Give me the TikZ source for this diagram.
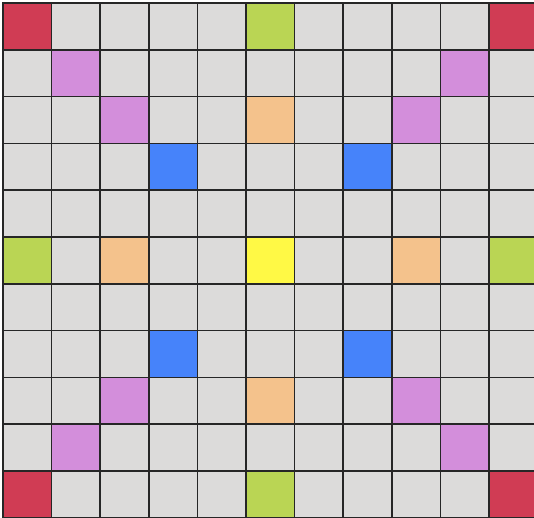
\documentclass[tikz,border=0pt]{standalone}
\usetikzlibrary{positioning}
\definecolor{cellgrey}{HTML}{DCDBDA}
\definecolor{cornerred}{HTML}{D03C54}
\definecolor{diagpink}{HTML}{D38EDB}
\definecolor{edgegreen}{HTML}{BAD554}
\definecolor{midorange}{HTML}{F4C28C}
\definecolor{innerblue}{HTML}{4683FA}
\definecolor{centreyellow}{HTML}{FFF945}
\tikzset{
  cellbox/.style={draw=black!85, line width=1.5pt, fill=cellgrey},
  redcell/.style={cellbox, fill=cornerred},
  pinkcell/.style={cellbox, fill=diagpink},
  greencell/.style={cellbox, fill=edgegreen},
  orangecell/.style={cellbox, fill=midorange},
  bluecell/.style={cellbox, fill=innerblue},
  yellowcell/.style={cellbox, fill=centreyellow}
}
% one cell: column, row, style
\newcommand{\gridcell}[3]{%
  \draw[#3] ({3+#1*48.6},{3+#2*46.8}) rectangle ++(48.6,46.8);}

\begin{document}
\begin{tikzpicture}[x=1pt, y=-1pt]
  \useasboundingbox (0,0) rectangle (534,517);
  \clip (0,0) rectangle (534,517);

  % plain board
  \foreach \c in {0,...,10}
    \foreach \r in {0,...,10}
      \gridcell{\c}{\r}{cellbox};

  % corners
  \foreach \c/\r in {0/0, 10/0, 0/10, 10/10}
    \gridcell{\c}{\r}{redcell};

  % edge midpoints
  \foreach \c/\r in {5/0, 0/5, 10/5, 5/10}
    \gridcell{\c}{\r}{greencell};

  % diagonals
  \foreach \c/\r in {1/1, 9/1, 2/2, 8/2, 2/8, 8/8, 1/9, 9/9}
    \gridcell{\c}{\r}{pinkcell};

  % inner squares
  \foreach \c/\r in {5/2, 2/5, 8/5, 5/8}
    \gridcell{\c}{\r}{orangecell};
  \foreach \c/\r in {3/3, 7/3, 3/7, 7/7}
    \gridcell{\c}{\r}{bluecell};

  % centre
  \gridcell{5}{5}{yellowcell};

\end{tikzpicture}
\end{document}
